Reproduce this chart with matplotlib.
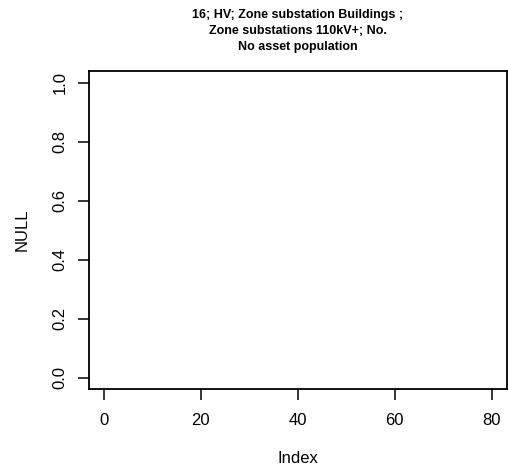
import matplotlib
matplotlib.use("Agg")
import matplotlib.pyplot as plt

plt.rcParams['font.family'] = ['Liberation Sans', 'DejaVu Sans']

title_lines = ["16; HV; Zone substation Buildings ;",
               "Zone substations 110kV+; No.",
               "No asset population"]
x_ticks = [0, 20, 40, 60, 80]
y_ticks = [0.0, 0.2, 0.4, 0.6, 0.8, 1.0]
y_tick_labels = ["0.0", "0.2", "0.4", "0.6", "0.8", "1.0"]
x_values = []
y_values = []

fig = plt.figure(figsize=(5.08, 4.75), dpi=100)
ax = fig.add_axes([88.5/508, 1-389.3/475, (507-88.5)/508, (389.3-71)/475])
ax.plot(x_values, y_values)
ax.set_xlim(-3.2, 83.2)
ax.set_ylim(-0.04, 1.04)
ax.set_xticks(x_ticks)
ax.set_xticklabels([str(t) for t in x_ticks])
ax.set_yticks(y_ticks)
ax.set_yticklabels(y_tick_labels, rotation=90, va='center')
for s in ax.spines.values():
    s.set_linewidth(1.3)
ax.tick_params(axis='both', length=7.8, width=1.1, labelsize=12)
ax.tick_params(axis='x', pad=9)
ax.tick_params(axis='y', pad=7.5)
ax.set_xlabel("Index", fontsize=12, labelpad=17)
ax.set_ylabel("NULL", fontsize=12, labelpad=16)
ax.set_title("\n".join(title_lines), fontsize=9, fontweight='bold',
             linespacing=1.45, pad=15)
fig.savefig("out.png", dpi=100)
